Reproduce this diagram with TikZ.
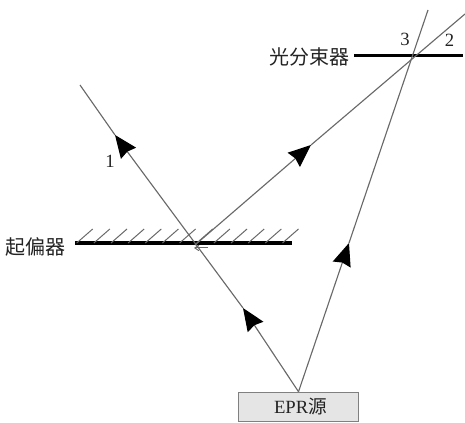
\documentclass[tikz,border=0pt]{standalone}
\usepackage{fontspec}
\usetikzlibrary{arrows.meta}
\setmainfont{Liberation Serif}
\newfontfamily\cjk{Noto Sans CJK SC}
\definecolor{beamgray}{RGB}{105,105,105}
\definecolor{textgray}{RGB}{35,35,35}
\tikzset{beam/.style={beamgray,line width=.85pt},
 headed/.style={beam,-{Stealth[inset=1.5pt,length=17pt,width=14pt,black]}},
 plate/.style={black,line width=2.3pt},
 hatch/.style={beamgray,line width=.75pt},
 every node/.style={font=\fontsize{14}{16}\selectfont,text=textgray}}

\begin{document}
\begin{tikzpicture}[x=.75pt,y=-.75pt]
\useasboundingbox (0,0) rectangle (465,423);
\node[draw=gray,fill=black!10,line width=.9pt,minimum width=90pt,minimum height=22pt,inner sep=0pt] (source) at (298.5,407) {\hspace{3pt}EPR{\cjk 源}};
% beam points
\coordinate (cross) at (195,245);
\coordinate (split) at (413,57);
\coordinate (end1) at (80,85);
\coordinate (end2) at (465,14);
\coordinate (end3) at (428,10);
\coordinate (tip1) at (115,135);
\coordinate (tip2) at (243,308);
\coordinate (tip3) at (349,243);
\coordinate (tip4) at (311,145);
% plates
\coordinate (polL) at (75,243);
\coordinate (polR) at (292,243);
\coordinate (splL) at (354,55.5);
\coordinate (splR) at (463,55.5);
\draw[plate] (polL)--(polR);
\draw[plate] (splL)--(splR);
\foreach \i in {0,...,12}
 \draw[hatch] (76.7+17.15*\i,243)--++(16,-14);
% beams
\draw[headed] (source.north)--(tip2);
\draw[headed] (tip2)--(tip1);
\draw[beam] (tip1)--(end1);
\draw[headed] (source.north)--(tip3);
\draw[beam] (tip3)--(end3);
\draw[headed] (cross)--(tip4);
\draw[beam] (tip4)--(end2);
\coordinate (backtail) at (208,248);
\coordinate (backtip) at (194,248);
\draw[hatch,-{Straight Barb[length=3pt,width=4pt]}] (backtail)--(backtip);
% labels
\node (one) at (110,161) {1};
\node (two) at (449.5,40) {2};
\node (three) at (405,39) {3};
\node[font=\fontsize{15}{17}\selectfont] (splitter) at (309,57) {\cjk 光分束器};
\node[font=\fontsize{15}{17}\selectfont] (polarizer) at (36,247) {\cjk 起偏器};
\end{tikzpicture}
\end{document}
